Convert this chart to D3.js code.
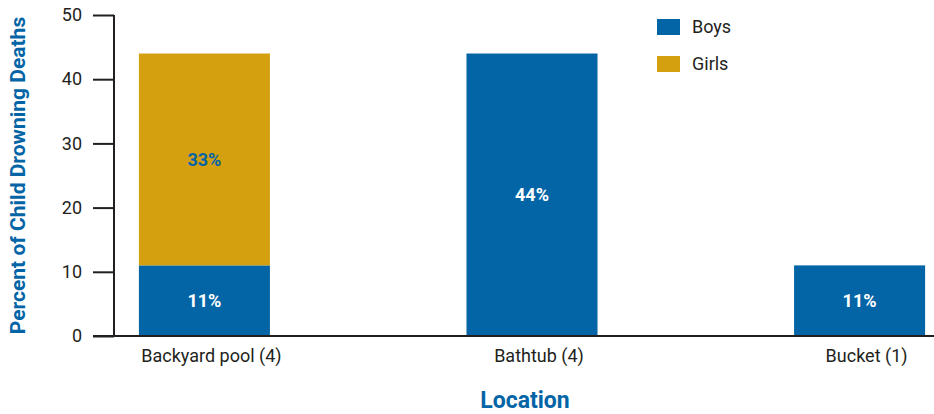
<!DOCTYPE html>
<html>
<head>
<meta charset="utf-8">
<script src="https://cdn.jsdelivr.net/npm/d3@7"></script>
<style>
  body { margin: 0; background: #fff; }
  svg { display: block; font-family: "Liberation Sans Narrow", "Roboto", sans-serif; }
</style>
</head>
<body>
<div id="chart"></div>
<script>
const categories = ["Backyard pool (4)", "Bathtub (4)", "Bucket (1)"];
const boys = [11, 44, 11];
const girls = [33, 0, 0];
const seriesNames = ["Boys", "Girls"];
const yTicks = [0, 10, 20, 30, 40, 50];

const width = 934, height = 414;
const blue = "#0465a6", gold = "#d5a00f", ink = "#231f20";
const margin = { left: 114, top: 15, bottom: 78 };
const plotBottom = height - margin.bottom;

const svg = d3.select("#chart").append("svg")
    .attr("width", width)
    .attr("height", height);

const x = d3.scaleBand()
    .domain(categories)
    .range([margin.left, 950])
    .paddingInner(0.6)
    .paddingOuter(0.076);

const y = d3.scaleLinear()
    .domain([0, 50])
    .range([plotBottom, margin.top]);

// stacked data
const rows = categories.map((c, i) => ({ cat: c, Boys: boys[i], Girls: girls[i] }));
const stack = d3.stack().keys(seriesNames)(rows);
const colors = { Boys: blue, Girls: gold };

const layers = svg.append("g").selectAll("g")
    .data(stack)
    .enter().append("g")
    .attr("fill", d => colors[d.key]);

layers.selectAll("rect")
    .data(d => d.filter(s => s[1] - s[0] > 0))
    .enter().append("rect")
    .attr("x", d => x(d.data.cat))
    .attr("width", x.bandwidth())
    .attr("y", d => y(d[1]))
    .attr("height", d => y(d[0]) - y(d[1]));

layers.selectAll("text")
    .data(d => d.filter(s => s[1] - s[0] > 0).map(s => ({ s: s, key: d.key })))
    .enter().append("text")
    .attr("x", d => x(d.s.data.cat) + x.bandwidth() / 2)
    .attr("y", d => (y(d.s[0]) + y(d.s[1])) / 2)
    .attr("dy", "0.35em")
    .attr("text-anchor", "middle")
    .attr("font-weight", "bold")
    .attr("font-size", 18)
    .attr("fill", d => d.key === "Girls" ? blue : "#fff")
    .text(d => (d.s[1] - d.s[0]) + "%");

// y axis
const yAxis = d3.axisLeft(y)
    .tickValues(yTicks)
    .tickSize(21)
    .tickPadding(11);

svg.append("g")
    .attr("class", "axis yAxis")
    .attr("transform", "translate(" + margin.left + ",0)")
    .call(yAxis)
    .call(g => g.select(".domain").remove())
    .call(g => g.selectAll(".tick line").attr("stroke", ink).attr("stroke-width", 2))
    .call(g => g.selectAll(".tick text").attr("fill", ink).style("font-size", "18px")
        .style("font-family", "'Liberation Sans Narrow', Roboto, sans-serif"));

svg.append("line")
    .attr("x1", margin.left).attr("x2", margin.left)
    .attr("y1", y(50)).attr("y2", plotBottom)
    .attr("stroke", ink).attr("stroke-width", 2);

// x axis
const xAxis = d3.axisBottom(x).tickSize(0).tickPadding(13);
svg.append("g")
    .attr("class", "axis xAxis")
    .attr("transform", "translate(0," + plotBottom + ")")
    .call(xAxis)
    .call(g => g.select(".domain").remove())
    .call(g => g.selectAll(".tick text").attr("fill", ink).attr("dx", 7).style("font-size", "18px")
        .style("font-family", "'Liberation Sans Narrow', Roboto, sans-serif"));

svg.append("line")
    .attr("x1", 93).attr("x2", width)
    .attr("y1", plotBottom).attr("y2", plotBottom)
    .attr("stroke", ink).attr("stroke-width", 2);

// axis titles
svg.append("text")
    .attr("transform", "translate(25," + (margin.top + plotBottom) / 2 + ") rotate(-90)")
    .attr("text-anchor", "middle")
    .attr("font-weight", "bold")
    .attr("font-size", 21)
    .attr("fill", blue)
    .text("Percent of Child Drowning Deaths");

svg.append("text")
    .attr("x", 525).attr("y", 408)
    .attr("text-anchor", "middle")
    .attr("font-weight", "bold")
    .attr("font-size", 23)
    .attr("fill", blue)
    .text("Location");

// legend
const legend = svg.append("g").selectAll("g")
    .data(seriesNames)
    .enter().append("g")
    .attr("transform", (d, i) => "translate(657," + (19 + i * 37) + ")");

legend.append("rect")
    .attr("width", 23).attr("height", 16)
    .attr("fill", d => colors[d]);

legend.append("text")
    .attr("x", 35).attr("y", 8).attr("dy", "0.35em")
    .attr("font-size", 18)
    .attr("fill", ink)
    .text(d => d);
</script>
</body>
</html>
